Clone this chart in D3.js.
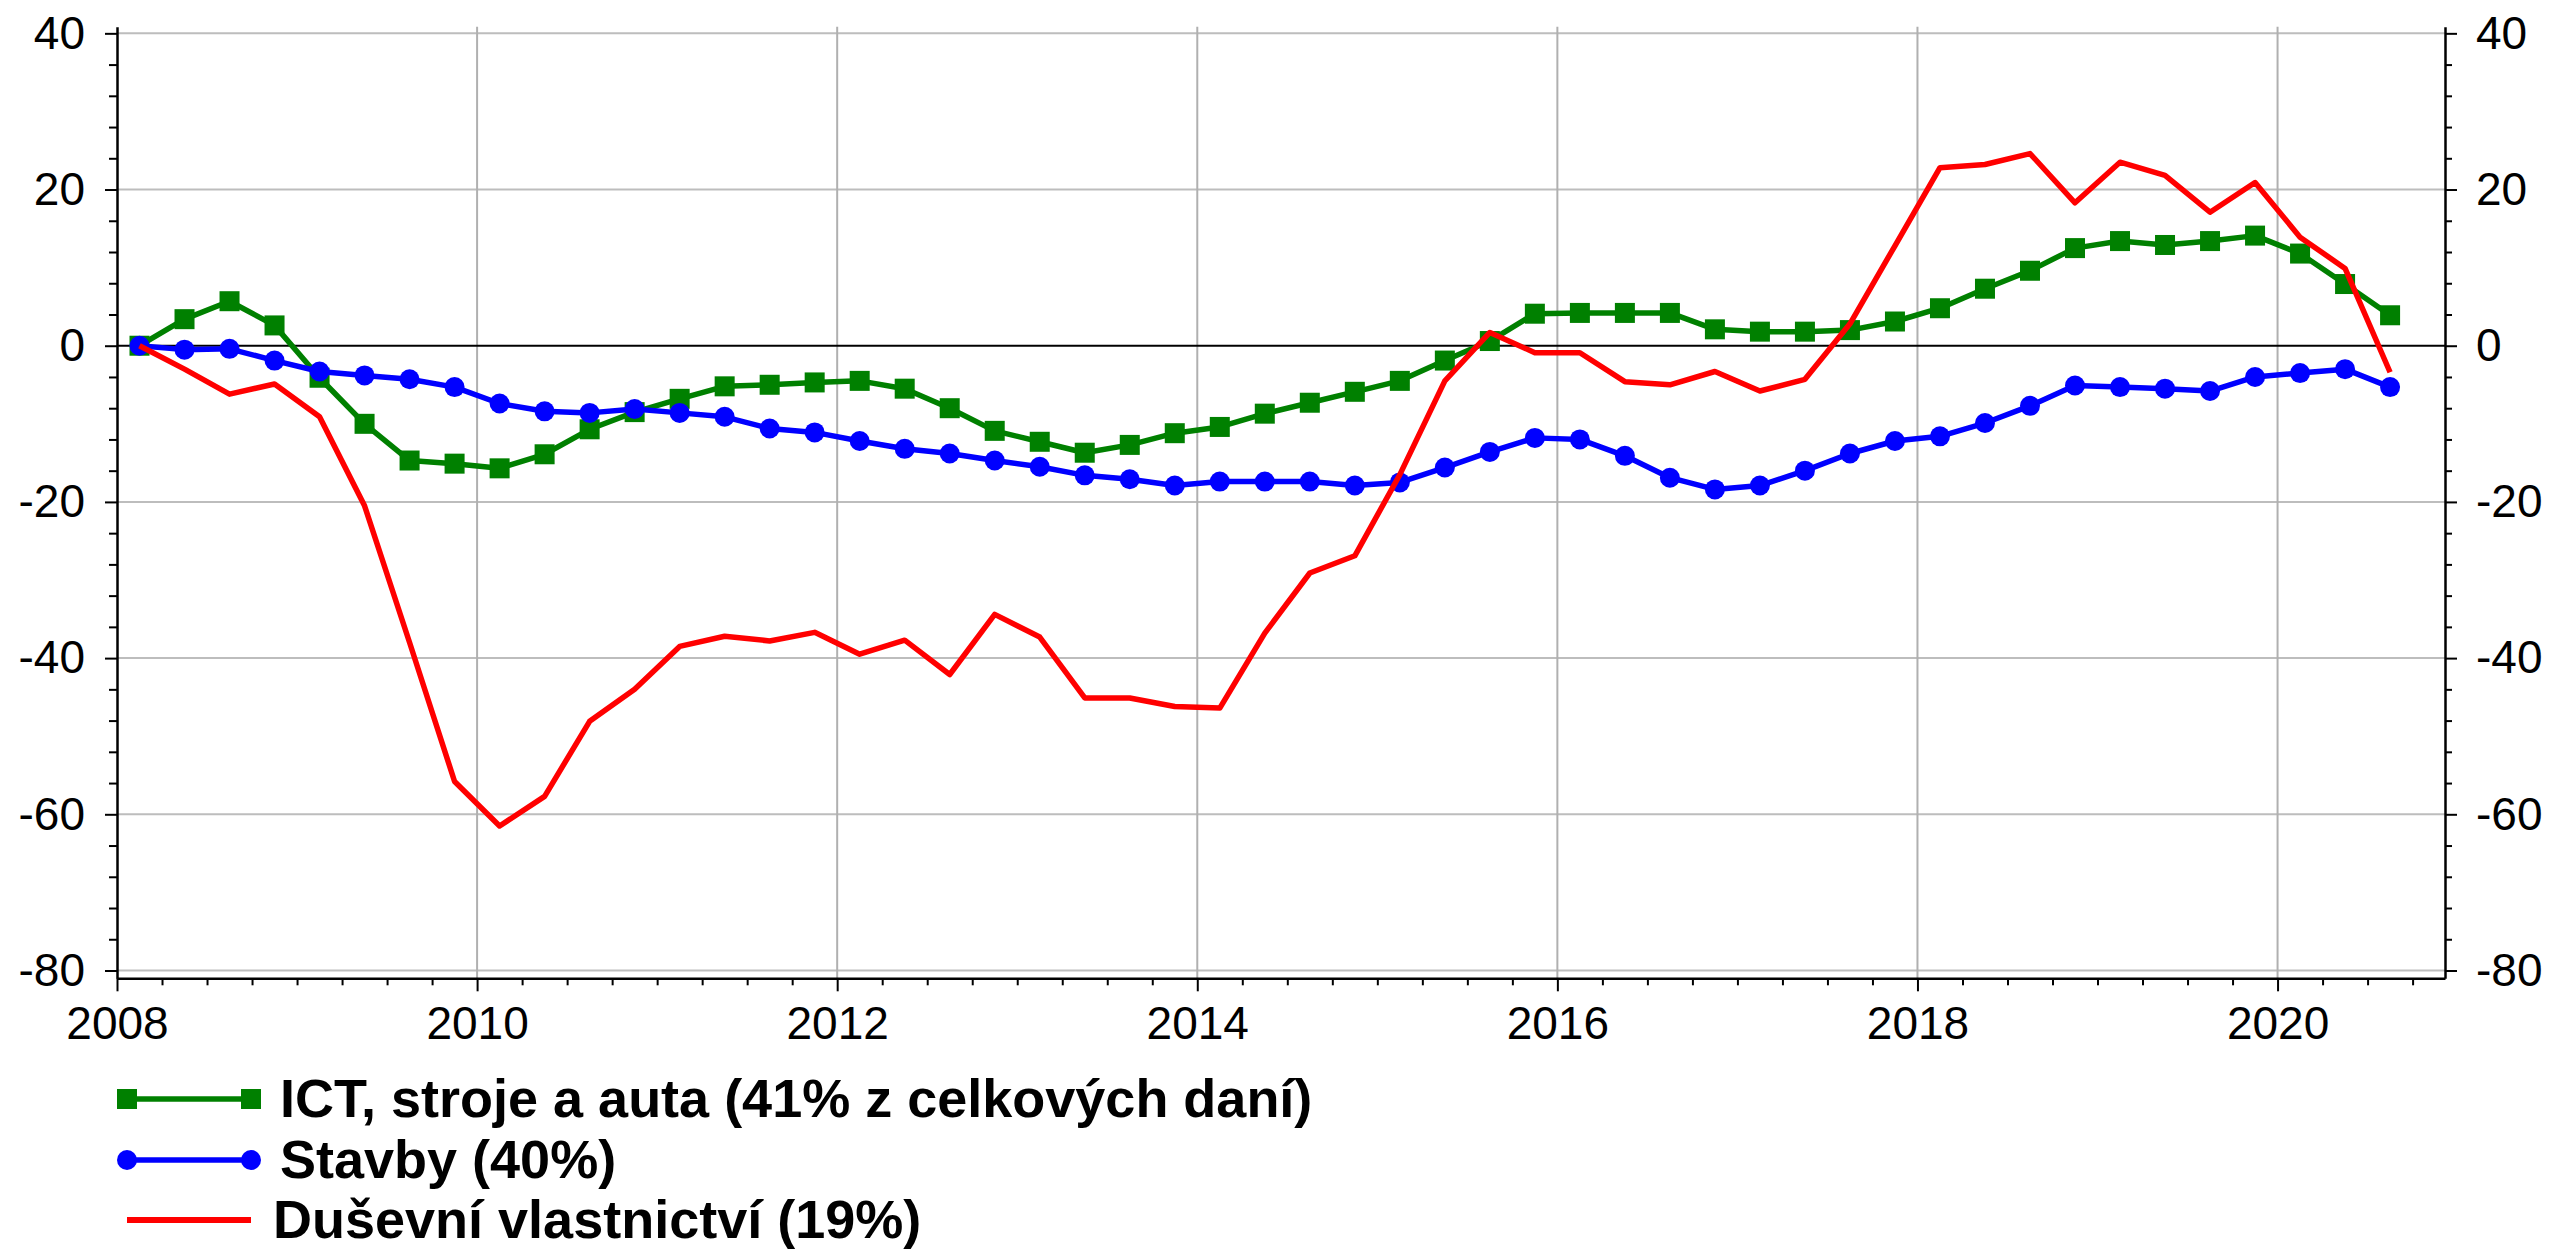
<!DOCTYPE html>
<html><head><meta charset="utf-8">
<script src="https://cdn.jsdelivr.net/npm/d3@7"></script>
<style>
body{margin:0;background:#fff}
svg{display:block}
text{font-family:"Liberation Sans",Arial,sans-serif;fill:#000}
</style>
</head><body>
<svg id="c" width="2552" height="1252"></svg>
<script>
const quarters = [
"2008Q1","2008Q2","2008Q3","2008Q4","2009Q1","2009Q2","2009Q3","2009Q4",
"2010Q1","2010Q2","2010Q3","2010Q4","2011Q1","2011Q2","2011Q3","2011Q4",
"2012Q1","2012Q2","2012Q3","2012Q4","2013Q1","2013Q2","2013Q3","2013Q4",
"2014Q1","2014Q2","2014Q3","2014Q4","2015Q1","2015Q2","2015Q3","2015Q4",
"2016Q1","2016Q2","2016Q3","2016Q4","2017Q1","2017Q2","2017Q3","2017Q4",
"2018Q1","2018Q2","2018Q3","2018Q4","2019Q1","2019Q2","2019Q3","2019Q4",
"2020Q1","2020Q2","2020Q3"];

const ict = [0, 3.4, 5.7, 2.6, -4.1, -10.0, -14.7, -15.1, -15.7, -13.9, -10.7, -8.5,
 -6.8, -5.2, -5.0, -4.7, -4.5, -5.5, -8.0, -10.9, -12.3, -13.7, -12.7, -11.2,
 -10.4, -8.7, -7.3, -5.9, -4.5, -1.9, 0.6, 4.1, 4.2, 4.2, 4.2, 2.1,
 1.8, 1.8, 2.0, 3.1, 4.8, 7.3, 9.6, 12.5, 13.4, 12.9, 13.4, 14.1,
 11.8, 7.9, 3.9];

const stavby = [0, -0.5, -0.4, -1.9, -3.3, -3.8, -4.3, -5.3, -7.4, -8.4, -8.6, -8.1,
 -8.6, -9.1, -10.6, -11.1, -12.2, -13.2, -13.8, -14.7, -15.5, -16.6, -17.1, -17.9,
 -17.4, -17.4, -17.4, -17.9, -17.5, -15.6, -13.6, -11.8, -12.0, -14.1, -16.9, -18.4,
 -17.9, -16.0, -13.8, -12.2, -11.6, -9.9, -7.7, -5.1, -5.3, -5.5, -5.8, -4.0,
 -3.5, -3.0, -5.3];

const dusevni = [0, -3.0, -6.2, -4.9, -9.1, -20.5, -38.0, -55.8, -61.5, -57.7, -48.1, -44.0,
 -38.5, -37.2, -37.8, -36.7, -39.5, -37.7, -42.1, -34.4, -37.3, -45.1, -45.1, -46.2,
 -46.4, -36.8, -29.1, -26.9, -16.5, -4.5, 1.7, -0.9, -0.9, -4.6, -5.0, -3.3,
 -5.8, -4.3, 2.8, 12.8, 22.8, 23.2, 24.6, 18.3, 23.5, 21.8, 17.1, 20.9,
 13.9, 9.9, -3.4];

const seriesNames = ["ICT, stroje a auta (41% z celkových daní)", "Stavby (40%)", "Duševní vlastnictví (19%)"];
const xTickLabels = ["2008","2010","2012","2014","2016","2018","2020"];
const yTickLabels = [40, 20, 0, -20, -40, -60, -80];

const svg = d3.select("#c");
const L = 117, R = 2445, T = 26.7, B = 978.3;
const x = d3.scaleLinear().domain([2008, 2020.93]).range([L, R]);
const y = d3.scaleLinear().domain([-81, 40.85]).range([B, T]);

const qToT = q => +q.slice(0,4) + (+q.slice(5) - 1) * 0.25 + 0.125;
const times = quarters.map(qToT);
const xMajor = xTickLabels.map(Number);
const plain = d => String(d);

// gridlines
const grid = svg.append("g");
grid.selectAll(".hg").data(yTickLabels.filter(v => v !== 0)).join("line")
  .attr("x1", L).attr("x2", R).attr("y1", d => y(d)).attr("y2", d => y(d))
  .attr("stroke", "#bdbdbd").attr("stroke-width", 2);
grid.selectAll(".vg").data(xMajor.filter(v => v !== 2008)).join("line")
  .attr("x1", d => x(d)).attr("x2", d => x(d)).attr("y1", T).attr("y2", B)
  .attr("stroke", "#b0b0b0").attr("stroke-width", 2);
grid.append("line").attr("x1", L).attr("x2", R).attr("y1", y(0)).attr("y2", y(0))
  .attr("stroke", "#000").attr("stroke-width", 2);

// axes
function styleAxis(g, fs) {
  g.selectAll("path.domain").attr("stroke", "#000").attr("stroke-width", 2.5);
  g.selectAll(".tick line").attr("stroke", "#000").attr("stroke-width", 2);
  g.selectAll("text").attr("font-size", fs).attr("fill", "#000");
}
const minorY = d3.range(-80, 41, 4).filter(v => v % 20 !== 0);
const minorX = d3.range(2008, 2021, 0.25).filter(v => xMajor.indexOf(v) < 0 && v < 2020.93);

const gB = svg.append("g").attr("transform", `translate(0,${B})`);
gB.append("g").call(d3.axisBottom(x).tickValues(minorX).tickSize(7).tickSizeOuter(0).tickFormat(""))
  .call(g => g.select("path.domain").remove()).call(g => styleAxis(g, 46));
gB.append("g").call(d3.axisBottom(x).tickValues(xMajor).tickSize(13).tickSizeOuter(0).tickPadding(15).tickFormat(plain))
  .call(g => styleAxis(g, 46));

const gL = svg.append("g").attr("transform", `translate(${L},0)`);
gL.append("g").call(d3.axisLeft(y).tickValues(minorY).tickSize(8).tickSizeOuter(0).tickFormat(""))
  .call(g => g.select("path.domain").remove()).call(g => styleAxis(g, 46));
gL.append("g").call(d3.axisLeft(y).tickValues(yTickLabels).tickSize(12).tickSizeOuter(0).tickPadding(20).tickFormat(plain))
  .call(g => styleAxis(g, 46));

const gR = svg.append("g").attr("transform", `translate(${R},0)`);
gR.append("g").call(d3.axisRight(y).tickValues(minorY).tickSize(7).tickSizeOuter(0).tickFormat(""))
  .call(g => g.select("path.domain").remove()).call(g => styleAxis(g, 46));
gR.append("g").call(d3.axisRight(y).tickValues(yTickLabels).tickSize(12).tickSizeOuter(0).tickPadding(19).tickFormat(plain))
  .call(g => styleAxis(g, 46));

// series
const series = [
  {name: seriesNames[0], values: ict, color: "#008000", marker: "square"},
  {name: seriesNames[1], values: stavby, color: "#0000ff", marker: "circle"},
  {name: seriesNames[2], values: dusevni, color: "#ff0000", marker: null}
];
const line = d3.line().x(d => x(d[0])).y(d => y(d[1]));
series.forEach(s => {
  const pts = times.map((t, i) => [t, s.values[i]]);
  const g = svg.append("g");
  g.append("path").attr("d", line(pts)).attr("fill", "none")
    .attr("stroke", s.color).attr("stroke-width", 5.5).attr("stroke-linejoin", "round");
  if (s.marker === "square") {
    g.selectAll("rect").data(pts).join("rect")
      .attr("x", d => x(d[0]) - 10).attr("y", d => y(d[1]) - 10)
      .attr("width", 20).attr("height", 20).attr("fill", s.color);
  } else if (s.marker === "circle") {
    g.selectAll("circle").data(pts).join("circle")
      .attr("cx", d => x(d[0])).attr("cy", d => y(d[1])).attr("r", 10).attr("fill", s.color);
  }
});

// legend
const legY = [1099, 1160, 1220];
const legTextY = [1117, 1178, 1238];
const legTextX = [280, 280, 273];
series.forEach((s, i) => {
  const g = svg.append("g");
  g.append("line").attr("x1", 127).attr("x2", 251).attr("y1", legY[i]).attr("y2", legY[i])
    .attr("stroke", s.color).attr("stroke-width", s.marker ? 5.5 : 6);
  if (s.marker === "square") {
    [127, 251].forEach(cx => g.append("rect").attr("x", cx - 10).attr("y", legY[i] - 10)
      .attr("width", 20).attr("height", 20).attr("fill", s.color));
  } else if (s.marker === "circle") {
    [127, 251].forEach(cx => g.append("circle").attr("cx", cx).attr("cy", legY[i]).attr("r", 10).attr("fill", s.color));
  }
  g.append("text").attr("x", legTextX[i]).attr("y", legTextY[i])
    .attr("font-size", 54).attr("font-weight", "bold").text(s.name);
});
</script>
</body></html>
